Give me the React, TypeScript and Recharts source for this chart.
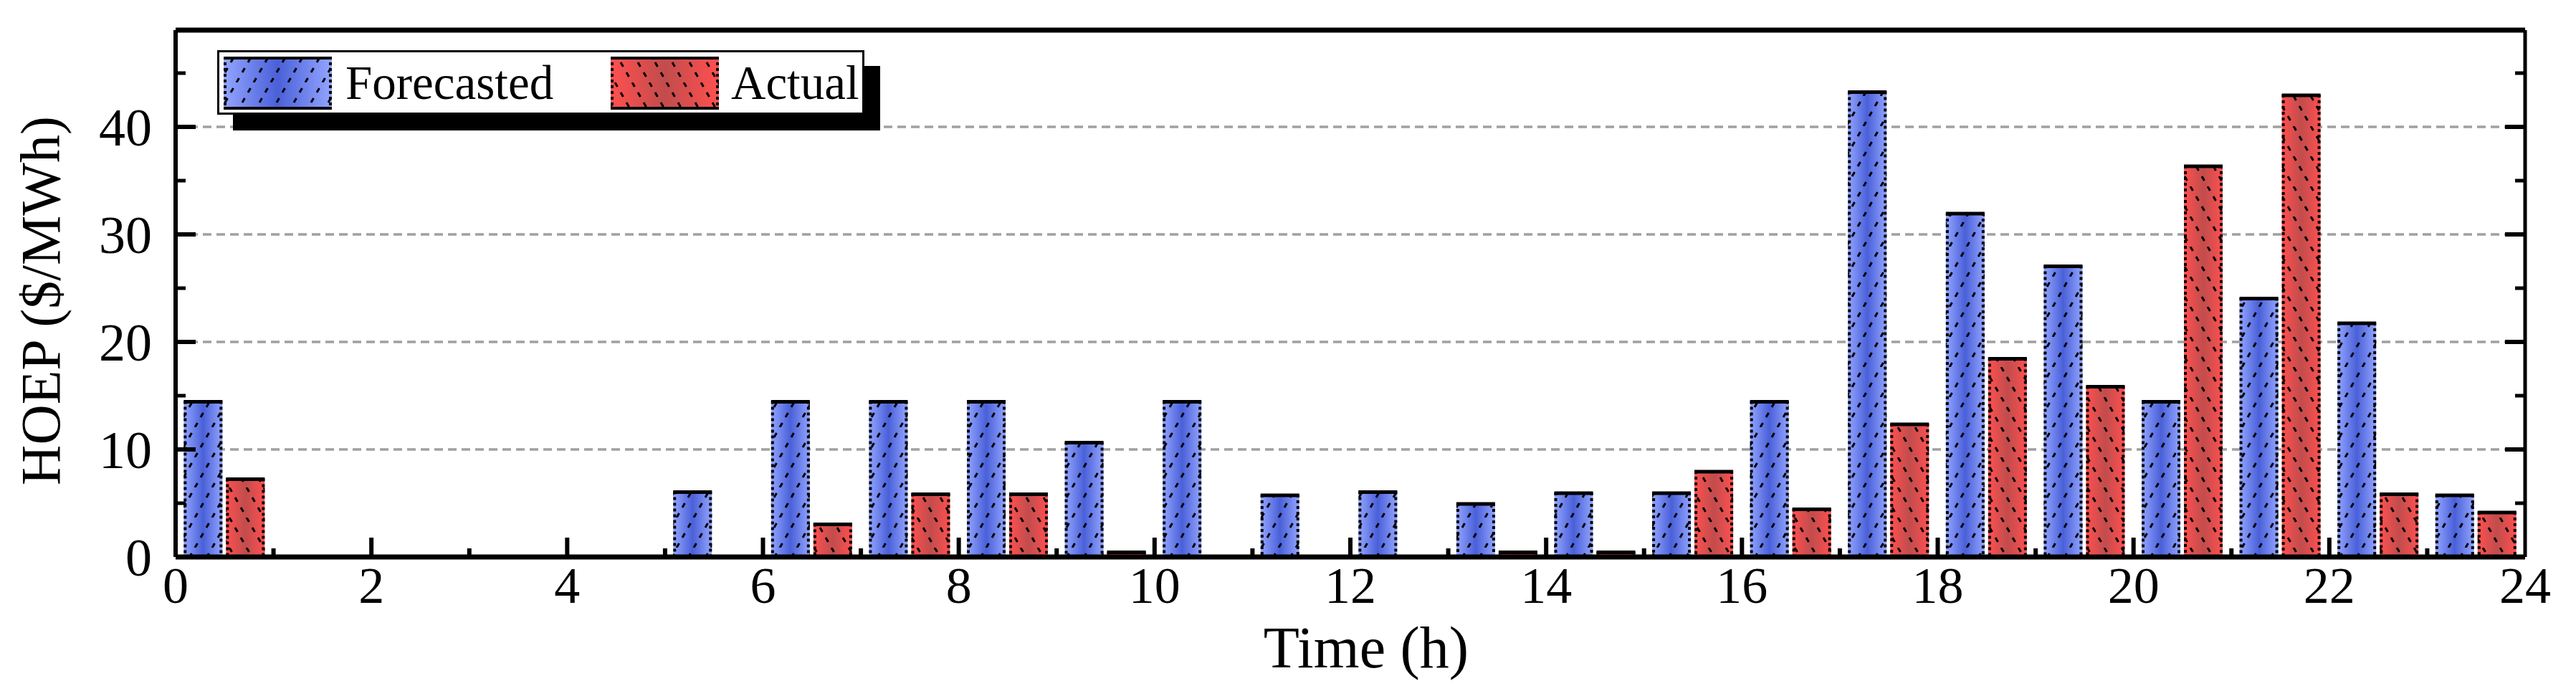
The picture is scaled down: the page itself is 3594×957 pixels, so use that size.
import { BarChart, Bar, XAxis, YAxis, CartesianGrid, ReferenceLine, Legend } from "recharts";

const hours = [0, 1, 2, 3, 4, 5, 6, 7, 8, 9, 10, 11, 12, 13, 14, 15, 16, 17, 18, 19, 20, 21, 22, 23];
const forecasted = [14.5, 0, 0, 0, 0, 6.1, 14.5, 14.5, 14.5, 10.7, 14.5, 5.8, 6.1, 5.0, 6.0, 6.0, 14.5, 43.3, 32.0, 27.1, 14.5, 24.1, 21.8, 5.8];
const actual = [7.3, 0, 0, 0, 0, 0, 3.1, 5.9, 5.9, 0.5, 0, 0, 0, 0.5, 0.5, 8.0, 4.5, 12.4, 18.5, 15.9, 36.4, 43.0, 5.9, 4.2];
const seriesNames = ["Forecasted", "Actual"];

const xTicks = [0, 1, 2, 3, 4, 5, 6, 7, 8, 9, 10, 11, 12, 13, 14, 15, 16, 17, 18, 19, 20, 21, 22, 23, 24];
const yTicks = [0, 5, 10, 15, 20, 25, 30, 35, 40, 45];
const gridValues = [10, 20, 30, 40];
const Y_MAX = 49;

const data = hours.map((h, i) => ({ hour: h, forecasted: forecasted[i], actual: actual[i] }));

const FONT = '"Liberation Serif", "Times New Roman", Times, serif';

const HatchDefs = () => (
  <defs>
    <linearGradient id="grad-f" x1="0" y1="0" x2="1" y2="0">
      <stop offset="0%" stopColor="#93a5ff" />
      <stop offset="50%" stopColor="#4a60d8" />
      <stop offset="100%" stopColor="#93a5ff" />
    </linearGradient>
    <linearGradient id="grad-a" x1="0" y1="0" x2="1" y2="0">
      <stop offset="0%" stopColor="#ff5050" />
      <stop offset="50%" stopColor="#c24c4c" />
      <stop offset="100%" stopColor="#ff5050" />
    </linearGradient>
    <pattern id="hatch-f" patternUnits="userSpaceOnUse" width={24} height={42}>
      <path d="M-24,42 L0,0 M0,42 L24,0 M24,42 L48,0" stroke="#000" strokeWidth={3} strokeDasharray="7 9.13" fill="none" />
    </pattern>
    <pattern id="hatch-a" patternUnits="userSpaceOnUse" width={24} height={42}>
      <path d="M-24,0 L0,42 M0,0 L24,42 M24,0 L48,42" stroke="#000" strokeWidth={3} strokeDasharray="7 9.13" fill="none" />
    </pattern>
  </defs>
);

const makeShape = (kind: string) => (props: any) => {
  const { x, y, width, height } = props;
  if (!height || height <= 0) return <g />;
  return (
    <g>
      <rect x={x} y={y} width={width} height={height} fill={`url(#grad-${kind})`} />
      <rect x={x} y={y} width={width} height={height} fill={`url(#hatch-${kind})`} />
      <line x1={x + 2} y1={y} x2={x + 2} y2={y + height} stroke="#000" strokeWidth={4} strokeDasharray="4 4" />
      <line x1={x + width - 2} y1={y} x2={x + width - 2} y2={y + height} stroke="#000" strokeWidth={4} strokeDasharray="4 4" />
      <line x1={x} y1={y + 1} x2={x + width} y2={y + 1} stroke="#000" strokeWidth={5} />
    </g>
  );
};

const XTick = (props: any) => {
  const { x, y, payload } = props;
  const major = payload.value % 2 === 0;
  return (
    <g>
      {payload.value > 0 && payload.value < 24 && (
        <line x1={x} x2={x} y1={y} y2={y - (major ? 27 : 12)} stroke="#000" strokeWidth={6} />
      )}
      {major && (
        <text x={x} y={y + 64} textAnchor="middle" fontFamily={FONT} fontSize={72} fill="#000">
          {payload.value}
        </text>
      )}
    </g>
  );
};

const YTickLeft = (props: any) => {
  const { x, y, payload } = props;
  const major = payload.value % 10 === 0;
  return (
    <g>
      {payload.value > 0 && (
        <line x1={x} x2={x + (major ? 28 : 14)} y1={y} y2={y} stroke="#000" strokeWidth={major ? 6 : 5} />
      )}
      {major && (
        <text x={x - 33} y={y + 26} textAnchor="end" fontFamily={FONT} fontSize={74} fill="#000">
          {payload.value}
        </text>
      )}
    </g>
  );
};

const YTickRight = (props: any) => {
  const { x, y, payload } = props;
  const major = payload.value % 10 === 0;
  if (payload.value <= 0) return <g />;
  return <line x1={x} x2={x - (major ? 28 : 14)} y1={y} y2={y} stroke="#000" strokeWidth={major ? 6 : 5} />;
};

const YTitle = (props: any) => {
  const vb = props.viewBox;
  const cx = vb.x + 75;
  const cy = vb.y + vb.height / 2 + 10;
  return (
    <text x={cx} y={cy} transform={`rotate(-90 ${cx} ${cy})`} textAnchor="middle" fontFamily={FONT} fontSize={78} fill="#000">
      HOEP ($/MWh)
    </text>
  );
};

const XTitle = (props: any) => {
  const vb = props.viewBox;
  return (
    <text x={vb.x + vb.width / 2 + 22} y={vb.y + 154} textAnchor="middle" fontFamily={FONT} fontSize={82} fill="#000">
      Time (h)
    </text>
  );
};

const Swatch = ({ x, y, kind }: { x: number; y: number; kind: string }) => (
  <g>
    <rect x={x} y={y} width={151} height={74} fill={`url(#grad-${kind})`} />
    <rect x={x} y={y} width={151} height={74} fill={`url(#hatch-${kind})`} />
    <line x1={x + 2} y1={y} x2={x + 2} y2={y + 74} stroke="#000" strokeWidth={4} strokeDasharray="4 4" />
    <line x1={x + 149} y1={y} x2={x + 149} y2={y + 74} stroke="#000" strokeWidth={4} strokeDasharray="4 4" />
    <line x1={x} y1={y + 2} x2={x + 151} y2={y + 2} stroke="#000" strokeWidth={4} />
    <line x1={x} y1={y + 72} x2={x + 151} y2={y + 72} stroke="#000" strokeWidth={4} />
  </g>
);

const LegendBox = () => (
  <div
    style={{
      width: 903,
      height: 90,
      boxSizing: "border-box",
      border: "3px solid #000",
      background: "#fff",
      boxShadow: "22px 22px 0 0 #000",
    }}
  >
    <svg width={897} height={84} style={{ display: "block" }}>
      <Swatch x={6} y={6} kind="f" />
      <text x={176} y={65} fontFamily={FONT} fontSize={67} fill="#000">
        {seriesNames[0]}
      </text>
      <Swatch x={546} y={6} kind="a" />
      <text x={714} y={65} fontFamily={FONT} fontSize={67} fill="#000">
        {seriesNames[1]}
      </text>
    </svg>
  </div>
);

export default function App() {
  return (
    <div style={{ width: 3578, height: 941, fontFamily: FONT }}>
      <BarChart
        width={3578}
        height={941}
        data={data}
        margin={{ top: 34, right: 0, bottom: 0, left: 0 }}
        barCategoryGap="8.3%"
        barGap={5}
      >
        <HatchDefs />
        <CartesianGrid
          vertical={false}
          horizontalValues={gridValues}
          stroke="#a0a0a0"
          strokeWidth={3.5}
          strokeDasharray="12 7"
        />
        <XAxis xAxisId="cat" dataKey="hour" type="category" hide orientation="top" height={0} />
        <XAxis
          dataKey="hour"
          type="number"
          domain={[0, 24]}
          allowDataOverflow
          ticks={xTicks}
          interval={0}
          tickSize={0}
          tickMargin={0}
          tickLine={false}
          tick={<XTick />}
          height={172}
          axisLine={{ stroke: "#000", strokeWidth: 7 }}
          label={XTitle}
        />
        <YAxis
          type="number"
          domain={[0, Y_MAX]}
          allowDataOverflow
          ticks={yTicks}
          interval={0}
          tickSize={0}
          tickMargin={0}
          tickLine={false}
          tick={<YTickLeft />}
          width={237}
          axisLine={{ stroke: "#000", strokeWidth: 6 }}
          label={YTitle}
        />
        <YAxis
          yAxisId="right"
          orientation="right"
          type="number"
          dataKey="forecasted"
          domain={[0, Y_MAX]}
          allowDataOverflow
          ticks={yTicks}
          interval={0}
          tickSize={0}
          tickMargin={0}
          tickLine={false}
          tick={<YTickRight />}
          width={63}
          axisLine={{ stroke: "#000", strokeWidth: 5 }}
        />
        <Bar xAxisId="cat" dataKey="forecasted" name={seriesNames[0]} shape={makeShape("f")} isAnimationActive={false} />
        <Bar xAxisId="cat" dataKey="actual" name={seriesNames[1]} shape={makeShape("a")} isAnimationActive={false} />
        <ReferenceLine y={Y_MAX} stroke="#000" strokeWidth={7} />
        <Legend
          layout="horizontal"
          verticalAlign="middle"
          align="center"
          wrapperStyle={{ left: 295, top: 62, width: 903, height: 90 }}
          content={() => <LegendBox />}
        />
      </BarChart>
    </div>
  );
}
